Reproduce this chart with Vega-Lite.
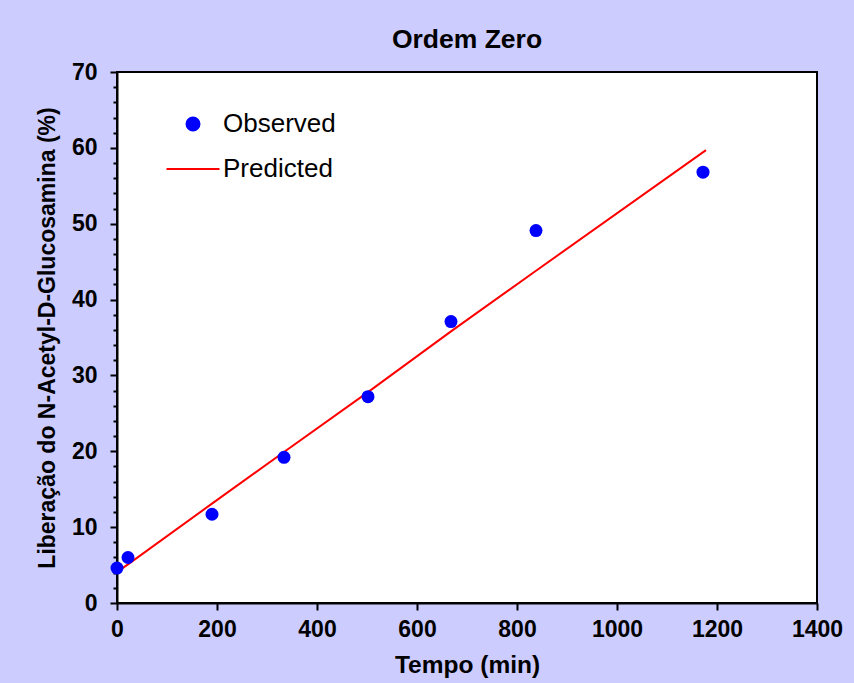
{
  "$schema": "https://vega.github.io/schema/vega-lite/v6.json",
  "width": 700,
  "height": 531,
  "autosize": {"type": "none"},
  "padding": {"left": 117, "top": 72, "right": 37, "bottom": 80},
  "background": "#CCCCFF",
  "title": {
    "text": "Ordem Zero",
    "font": "Liberation Sans",
    "fontSize": 26.5,
    "fontWeight": "bold",
    "color": "#000000",
    "anchor": "middle",
    "offset": 8
  },
  "config": {
    "view": {"fill": "#FFFFFF", "stroke": "#000000", "strokeWidth": 2},
    "axis": {
      "labelFont": "Liberation Sans",
      "labelFontSize": 23,
      "labelFontWeight": "bold",
      "labelColor": "#000000",
      "labelFlush": false,
      "titleFont": "Liberation Sans",
      "titleFontWeight": "bold",
      "titleColor": "#000000",
      "domainColor": "#000000",
      "domainWidth": 2,
      "tickColor": "#000000",
      "tickWidth": 2,
      "grid": false
    }
  },
  "datasets": {
    "obs": [
      {"t": 0, "v": 4.6, "series": "Observed"},
      {"t": 22, "v": 6.0, "series": "Observed"},
      {"t": 190, "v": 11.7, "series": "Observed"},
      {"t": 334, "v": 19.2, "series": "Observed"},
      {"t": 502, "v": 27.2, "series": "Observed"},
      {"t": 668, "v": 37.1, "series": "Observed"},
      {"t": 838, "v": 49.1, "series": "Observed"},
      {"t": 1172, "v": 56.8, "series": "Observed"}
    ],
    "pred": [
      {"t": 0, "v": 4.1, "series": "Predicted"},
      {"t": 22, "v": 5.1, "series": "Predicted"},
      {"t": 190, "v": 13.1, "series": "Predicted"},
      {"t": 334, "v": 19.9, "series": "Predicted"},
      {"t": 502, "v": 27.8, "series": "Predicted"},
      {"t": 668, "v": 35.8, "series": "Predicted"},
      {"t": 838, "v": 43.8, "series": "Predicted"},
      {"t": 1178, "v": 59.7, "series": "Predicted"}
    ]
  },
  "encoding": {
    "x": {
      "field": "t",
      "type": "quantitative",
      "scale": {"domain": [0, 1400], "nice": false, "zero": false},
      "axis": {
        "title": "Tempo (min)",
        "titleFontSize": 24.5,
        "format": "d",
        "values": [0, 200, 400, 600, 800, 1000, 1200, 1400],
        "tickSize": 7,
        "labelPadding": 8,
        "titlePadding": 12
      }
    },
    "y": {
      "field": "v",
      "type": "quantitative",
      "scale": {"domain": [0, 70], "nice": false, "zero": false},
      "axis": {
        "title": "Liberação do N-Acetyl-D-Glucosamina (%)",
        "titleFontSize": 23,
        "values": [0, 2, 4, 6, 8, 10, 12, 14, 16, 18, 20, 22, 24, 26, 28, 30, 32, 34, 36, 38, 40, 42, 44, 46, 48, 50, 52, 54, 56, 58, 60, 62, 64, 66, 68, 70],
        "labelExpr": "datum.value % 10 === 0 ? datum.label : ''",
        "tickSize": {"condition": {"test": "datum.value % 10 === 0", "value": 7}, "value": 4},
        "labelPadding": 13,
        "titlePadding": 12
      }
    },
    "color": {
      "field": "series",
      "type": "nominal",
      "scale": {"domain": ["Observed", "Predicted"], "range": ["#0000FF", "#FF0000"]},
      "legend": {
        "title": null,
        "orient": "none",
        "legendX": 63,
        "legendY": 39,
        "labelFont": "Liberation Sans",
        "labelFontSize": 26,
        "labelColor": "#000000",
        "labelOffset": 17,
        "rowPadding": 19,
        "symbolStrokeWidth": 2,
        "encode": {
          "symbols": {
            "update": {
              "shape": {"signal": "datum.value === 'Predicted' ? 'stroke' : 'circle'"},
              "size": {"signal": "datum.value === 'Predicted' ? 2809 : 169"},
              "stroke": {"signal": "datum.value === 'Predicted' ? '#FF0000' : 'transparent'"},
              "fill": {"signal": "datum.value === 'Predicted' ? 'transparent' : '#0000FF'"},
              "strokeWidth": {"value": 2},
              "opacity": {"value": 1}
            }
          }
        }
      }
    }
  },
  "layer": [
    {
      "data": {"name": "pred"},
      "mark": {"type": "line", "strokeWidth": 2, "clip": true}
    },
    {
      "data": {"name": "obs"},
      "mark": {"type": "point", "filled": true, "shape": "circle", "size": 169, "opacity": 1}
    }
  ]
}
